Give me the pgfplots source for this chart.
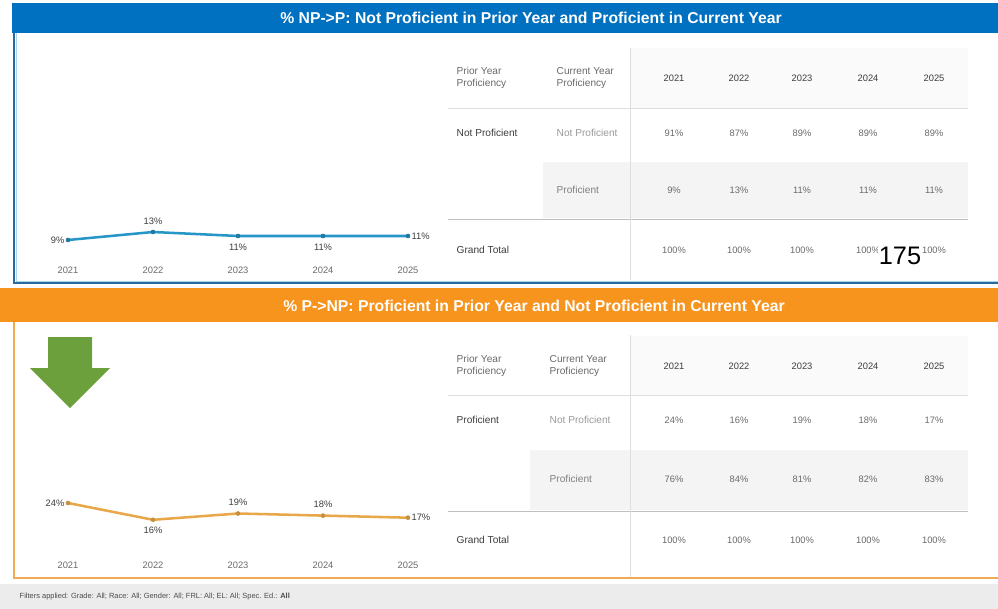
\documentclass[border=0pt]{standalone}
\usepackage{fontspec}
\setmainfont{Liberation Sans}
\usepackage{pgfplots}
\pgfplotsset{compat=1.18}

\definecolor{hdrblue}{RGB}{0,112,192}
\definecolor{frameblue}{RGB}{40,105,160}
\definecolor{hdrorange}{RGB}{247,148,30}
\definecolor{frameorange}{RGB}{240,170,80}
\definecolor{lineblue}{RGB}{38,150,200}
\definecolor{lineorange}{RGB}{232,168,74}
\definecolor{arrowgreen}{RGB}{108,160,60}
\definecolor{txtgray}{RGB}{105,105,105}
\definecolor{lblgray}{RGB}{60,60,60}
\definecolor{bandgray}{RGB}{244,244,244}
\definecolor{rulegray}{RGB}{222,222,222}
\definecolor{footgray}{RGB}{236,236,236}

\pgfplotsset{
  trend/.style={
    scale only axis, width=331.5pt,
    xmin=-0.6, xmax=4.6, ymin=0, ymax=30,
    axis line style={draw=none}, major tick length=0pt,
    xtick={0,...,4}, xticklabels={2021,2022,2023,2024,2025}, ytick=\empty,
    xticklabel style={anchor=center, yshift=-9pt, text=txtgray, font=\fontsize{7}{8}\selectfont},
    /pgf/number format/assume math mode=true,
    clip=false,
  },
  % label-only plot, anchor given as argument
  lbl/.style={
    draw=none, mark=none, point meta=y,
    nodes near coords={\pgfmathprintnumber{\pgfplotspointmeta}\%},
    every node near coord/.append style={anchor=#1, text=lblgray, inner sep=2.5pt,
      font=\fontsize{7}{8}\selectfont},
  },
  above/.style={every node near coord/.append style={yshift=3pt}},
  below/.style={every node near coord/.append style={yshift=-3pt}},
}

\newcommand{\tcell}[3]{\node[text=#3, font=\fontsize{7.6}{9}\selectfont, anchor=west, align=left] at (#1) {#2};}
\newcommand{\vcell}[3]{\node[text=#3, font=\fontsize{7}{8}\selectfont] at (#1) {#2};}

\begin{document}
\begin{tikzpicture}[x=0.75pt, y=0.75pt]
\useasboundingbox (0,0) rectangle (998,-609);

% ---------- top panel ----------
\fill[hdrblue] (12,-3) rectangle (998,-33);
\node[text=white, font=\fontsize{11.8}{14}\selectfont\bfseries] at (531,-18)
  {\% NP->P: Not Proficient in Prior Year and Proficient in Current Year};
\draw[frameblue, line width=1.4pt] (14,-33) -- (14,-283) -- (998,-283);
\draw[lineblue!40, line width=0.6pt] (16,-33) -- (16,-281) -- (998,-281);

% table
\fill[black!2] (630,-48) rectangle (968,-108);
\fill[bandgray] (543,-162) rectangle (968,-218);
\draw[rulegray, line width=0.6pt] (448,-108) -- (968,-108);
\draw[black!25, line width=0.6pt] (448,-219) -- (968,-219);
\draw[rulegray, line width=0.6pt] (630,-48) -- (630,-280);
\node[text=txtgray, font=\fontsize{7.6}{8.8}\selectfont, anchor=west, align=left] at (452,-78) {Prior Year\\Proficiency};
\node[text=txtgray, font=\fontsize{7.6}{8.8}\selectfont, anchor=west, align=left] at (552,-78) {Current Year\\Proficiency};
\tcell{452,-133}{Not Proficient}{lblgray}
\tcell{552,-133}{Not Proficient}{black!40}
\tcell{552,-190}{Proficient}{black!50}
\tcell{452,-250}{Grand Total}{lblgray}
\foreach \xx/\yr/\a/\b in {674/2021/91/9, 739/2022/87/13, 802/2023/89/11, 868/2024/89/11, 934/2025/89/11} {
  \vcell{\xx,-78}{\yr}{lblgray}
  \vcell{\xx,-133}{\a\%}{txtgray}
  \vcell{\xx,-190}{\b\%}{txtgray}
  \vcell{\xx,-250}{100\%}{txtgray}
}
\node[fill=white, inner sep=0.5pt, font=\fontsize{19}{22}\selectfont] at (900,-256) {175};

\begin{axis}[trend, at={(12.75pt,-193.5pt)}, anchor=south west, height=45pt]
\addplot[lineblue, line width=1.9pt, mark=*, mark size=1.5pt,
  mark options={line width=0.4pt, fill=lineblue!80!black, draw=lineblue!80!black}]
  coordinates {(0,9) (1,13) (2,11) (3,11) (4,11)};
\addplot[lbl=east] coordinates {(0,9)};
\addplot[lbl=south, above] coordinates {(1,13)};
\addplot[lbl=north, below] coordinates {(2,11) (3,11)};
\addplot[lbl=west] coordinates {(4,11)};
\end{axis}

% ---------- bottom panel ----------
\fill[hdrorange] (0,-288) rectangle (998,-322);
\node[text=white, font=\fontsize{11.8}{14}\selectfont\bfseries] at (534,-306)
  {\% P->NP: Proficient in Prior Year and Not Proficient in Current Year};
\draw[frameorange, line width=1.4pt] (14,-322) -- (14,-578) -- (998,-578);

\fill[arrowgreen] (48,-337) -- (92,-337) -- (92,-368) -- (110,-368) -- (70,-408)
  -- (30,-368) -- (48,-368) -- cycle;

\fill[black!2] (630,-336) rectangle (968,-395);
\fill[bandgray] (530,-450) rectangle (968,-510);
\draw[rulegray, line width=0.6pt] (448,-395) -- (968,-395);
\draw[black!25, line width=0.6pt] (448,-511) -- (968,-511);
\draw[rulegray, line width=0.6pt] (630,-335) -- (630,-577);
\node[text=txtgray, font=\fontsize{7.6}{8.8}\selectfont, anchor=west, align=left] at (452,-366) {Prior Year\\Proficiency};
\node[text=txtgray, font=\fontsize{7.6}{8.8}\selectfont, anchor=west, align=left] at (545,-366) {Current Year\\Proficiency};
\tcell{452,-420}{Proficient}{lblgray}
\tcell{545,-420}{Not Proficient}{black!40}
\tcell{545,-479}{Proficient}{black!50}
\tcell{452,-540}{Grand Total}{lblgray}
\foreach \xx/\yr/\a/\b in {674/2021/24/76, 739/2022/16/84, 802/2023/19/81, 868/2024/18/82, 934/2025/17/83} {
  \vcell{\xx,-366}{\yr}{lblgray}
  \vcell{\xx,-420}{\a\%}{txtgray}
  \vcell{\xx,-479}{\b\%}{txtgray}
  \vcell{\xx,-540}{100\%}{txtgray}
}

\begin{axis}[trend, at={(12.75pt,-415.05pt)}, anchor=south west, height=47.25pt]
\addplot[lineorange, line width=1.9pt, mark=*, mark size=1.5pt,
  mark options={line width=0.4pt, fill=lineorange!85!black, draw=lineorange!85!black}]
  coordinates {(0,24) (1,16) (2,19) (3,18) (4,17)};
\addplot[lbl=east] coordinates {(0,24)};
\addplot[lbl=north, below] coordinates {(1,16)};
\addplot[lbl=south, above] coordinates {(2,19) (3,18)};
\addplot[lbl=west] coordinates {(4,17)};
\end{axis}

% ---------- footer ----------
\fill[footgray] (0,-584) rectangle (998,-609);
\node[anchor=west, text=black!70, font=\fontsize{5.6}{7}\selectfont] at (15,-597)
  {Filters applied: Grade: All; Race: All; Gender: All; FRL: All; EL: All; Spec. Ed.: \textbf{All}};
\end{tikzpicture}
\end{document}
